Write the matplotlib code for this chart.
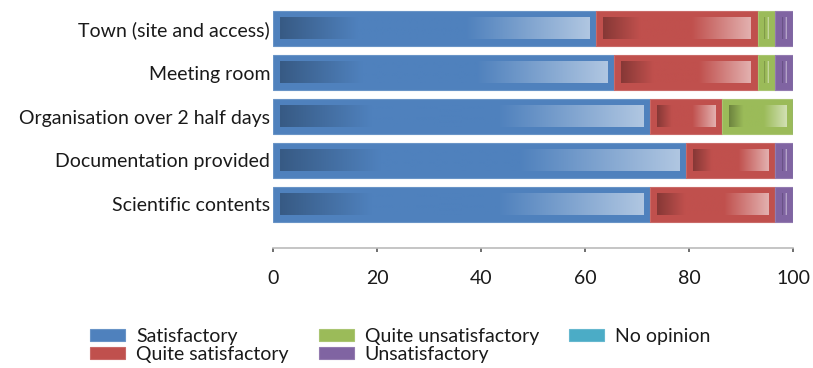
import matplotlib
matplotlib.use("Agg")
import matplotlib.pyplot as plt
import numpy as np
from matplotlib.colors import LinearSegmentedColormap, to_rgb

plt.rcParams["font.family"] = ["Lato", "DejaVu Sans"]
plt.rcParams["text.color"] = "#1a1a1a"

categories = ["Town (site and access)", "Meeting room", "Organisation over 2 half days",
              "Documentation provided", "Scientific contents"]
series = ["Satisfactory", "Quite satisfactory", "Quite unsatisfactory", "Unsatisfactory", "No opinion"]
satisfactory = [62.2, 65.6, 72.5, 79.4, 72.5]
quite_satisfactory = [31.0, 27.6, 13.8, 17.2, 24.1]
quite_unsatisfactory = [3.4, 3.4, 13.7, 0.0, 0.0]
unsatisfactory = [3.4, 3.4, 0.0, 3.4, 3.4]
no_opinion = [0.0, 0.0, 0.0, 0.0, 0.0]
values = [satisfactory, quite_satisfactory, quite_unsatisfactory, unsatisfactory, no_opinion]
colors = ["#4F81BD", "#C0504D", "#9BBB59", "#8064A2", "#4BACC6"]


def shade(c, f):
    r = np.array(to_rgb(c))
    if f < 0:
        return tuple(r * (1 + f))
    return tuple(r + (1 - r) * f)


fig = plt.figure(figsize=(8.13, 3.68), dpi=100)
ax = fig.add_axes([273 / 813, 120 / 368, 520 / 813, 241 / 368])

y = np.arange(len(categories))
bar_h = 0.8
inner_h = 0.48
padx = 1.3
grad = np.linspace(0, 1, 256).reshape(1, -1)

left = np.zeros(len(categories))
for name, vals, col in zip(series, values, colors):
    vals = np.array(vals)
    ax.barh(y, vals, left=left, height=bar_h, color=col, edgecolor=shade(col, 0.15),
            linewidth=0.8, label=name, zorder=2)
    cmap = LinearSegmentedColormap.from_list(
        name, [(0, shade(col, -0.3)), (0.25, col), (0.6, col), (1, shade(col, 0.55))])
    for yi, l, v in zip(y, left, vals):
        if v <= 0:
            continue
        ax.imshow(grad, cmap=cmap, aspect="auto", zorder=3, interpolation="bilinear",
                  extent=[l + padx, l + v - padx, yi + inner_h / 2, yi - inner_h / 2])
    left = left + vals

ax.set_xlim(0, 100)
ax.set_ylim(5.0, -0.5)
ax.set_yticks(y)
ax.set_yticklabels(categories, fontsize=14)
ax.set_xticks([0, 20, 40, 60, 80, 100])
ax.tick_params(axis="y", length=0, pad=2, labelcolor="#1a1a1a")
ax.tick_params(axis="x", length=3, width=1.2, color="#555555", labelsize=14, pad=13,
               labelcolor="#1a1a1a")
for s in ["top", "right", "left"]:
    ax.spines[s].set_visible(False)
ax.spines["bottom"].set_color("#BBBBBB")
ax.spines["bottom"].set_linewidth(1.2)

handles, labels = ax.get_legend_handles_labels()
fig.legend(handles, labels, ncol=3, loc="upper left", bbox_to_anchor=(90 / 813, 1 - 328 / 368),
           frameon=False, fontsize=14, handlelength=1.8, handleheight=0.55,
           handletextpad=0.57, columnspacing=1.55, labelspacing=0.05, borderpad=0,
           borderaxespad=0)

fig.savefig("out.png", dpi=100)
